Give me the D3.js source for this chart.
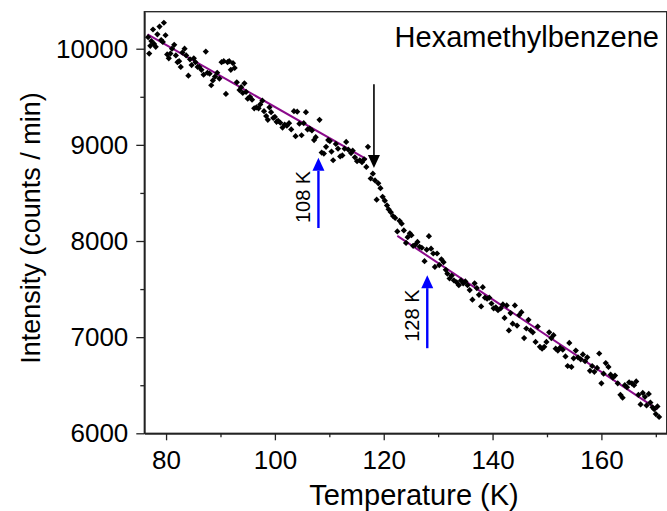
<!DOCTYPE html>
<html>
<head>
<meta charset="utf-8">
<script src="https://cdn.jsdelivr.net/npm/d3@7"></script>
<style>
  body { margin: 0; background: #fff; }
  text { font-family: "Liberation Sans", Arial, sans-serif; fill: #000; }
</style>
</head>
<body>
<div id="container"></div>
<script>
var points = [
  [76.7,10120],[76.9,9950],[77.1,10030],[77.3,10080],[77.6,10200],[77.8,10050],[78.1,10020],[78.4,10150],
  [78.8,10230],[79.1,10090],[79.4,10070],[79.6,10270],[79.9,10140],[80.2,9940],[80.5,9900],[80.8,9950],
  [81.1,10000],[81.5,10040],[81.8,9930],[82.1,9860],[82.4,9870],[82.7,9810],[83.0,9960],[83.4,10000],
  [83.7,9930],[84.1,9720],[84.4,9890],[84.7,9830],[85.1,9900],[85.4,9860],[85.8,9810],[86.1,9810],
  [86.5,9780],[86.9,9730],[87.3,9970],[87.6,9750],[88.0,9740],[88.3,9620],[88.6,9670],[89.0,9710],
  [89.4,9750],[89.8,9690],[90.2,9860],[90.6,9870],[91.0,9530],[91.3,9860],[91.6,9870],[91.9,9780],
  [92.3,9850],[92.6,9800],[93.0,9650],[93.5,9570],[93.8,9600],[94.1,9540],[94.4,9640],[94.7,9550],
  [95.0,9480],[95.4,9500],[95.8,9470],[96.2,9380],[96.6,9390],[97.0,9380],[97.3,9420],[97.7,9460],
  [98.0,9350],[98.4,9300],[98.7,9260],[99.0,9390],[99.3,9340],[99.7,9280],[100.0,9290],[100.3,9240],
  [100.6,9250],[101.0,9230],[101.4,9180],[101.8,9210],[102.2,9200],[102.6,9225],[103.0,9160],[103.5,9350],
  [103.8,9090],[104.1,9345],[104.5,9220],[104.9,9100],[105.3,9225],[105.7,9340],[106.0,9160],[106.4,9170],
  [106.8,9150],[107.2,9050],[107.5,9080],[108.2,9260],[108.6,8920],[109.0,8910],[109.4,8980],[109.8,9050],
  [110.1,9040],[110.4,8930],[110.7,8840],[111.2,9010],[111.6,8960],[112.0,8880],[112.4,8890],[112.8,8960],
  [113.1,9030],[113.5,8950],[114.0,8915],[114.3,8940],[114.7,8870],[115.1,8830],[115.6,8840],[116.0,8820],
  [116.4,8850],[116.8,8770],[117.1,8980],
  [117.6,8650],[118.0,8700],[118.4,8630],[118.7,8430],[119.0,8600],[119.4,8550],[119.8,8460],[120.2,8420],
  [120.6,8370],[120.9,8330],[121.3,8300],[121.7,8260],[122.1,8240],[122.5,8100],[122.9,8210],[123.3,8180],
  [123.7,8110],
  [124.1,7980],[124.4,8040],[124.8,8080],[125.1,8060],[125.4,7950],[125.8,7960],[126.2,7990],[126.6,7940],
  [127.0,7930],[127.5,7790],[127.9,7910],[128.3,8050],[128.7,7920],[129.1,7870],[129.4,7730],[129.8,7870],
  [130.2,7750],[130.6,7810],[131.0,7780],[131.4,7700],[131.7,7660],[132.1,7610],[132.5,7640],[132.9,7590],
  [133.4,7570],[133.8,7540],[134.2,7590],[134.6,7560],[135.0,7580],[135.4,7540],[135.8,7490],[136.3,7390],
  [136.7,7560],[137.1,7510],[137.5,7440],[137.9,7320],[138.2,7520],[138.6,7410],[139.0,7400],[139.4,7410],
  [139.8,7350],[140.2,7300],[140.6,7310],[141.0,7280],[141.5,7300],[141.9,7340],[142.2,7200],[142.6,7330],
  [143.0,7070],[143.3,7250],[143.7,7140],[144.1,7330],[144.5,7120],[144.9,7230],[145.3,7260],[145.8,6990],
  [146.2,7090],[146.6,7180],[147.0,7070],[147.4,7050],[147.9,6950],[148.3,7110],[148.7,6900],[149.1,6880],
  [149.5,6900],[149.9,6950],[150.4,7050],[150.8,6990],[151.2,7020],[151.6,6880],[152.0,6860],[152.4,6890],
  [152.9,6870],[153.4,6800],[153.8,6700],[154.1,6940],[154.5,6690],[154.9,6780],[155.3,6860],[155.7,6790],
  [156.2,6770],[156.6,6820],[157.0,6750],[157.4,6790],[157.9,6650],[158.3,6700],[158.7,6640],[159.2,6680],
  [159.6,6830],[160.0,6520],[160.4,6620],[160.8,6730],[161.3,6690],[161.7,6610],[162.1,6580],[162.5,6600],
  [163.0,6520],[163.5,6400],[163.9,6370],[164.3,6500],[164.7,6480],[165.1,6530],[165.6,6520],[166.0,6500],
  [166.4,6540],[166.8,6400],[167.2,6300],[167.6,6420],[168.0,6380],[168.3,6290],[168.7,6410],[169.0,6320],
  [169.4,6270],[169.7,6250],[170.0,6200],[170.3,6280],[170.6,6170]
];

// linear fits below and above the transition: [T, I] end points
var fitLow = [[76.6,10150],[116.9,8849]];
var fitHigh = [[122.5,8054],[170.3,6249]];

// arrows: x = temperature, from / to in counts
var blackArrow = {t: 118.2, from: 9630, to: 8760};
var blueArrows = [
  {t: 108, from: 8135, to: 8865, label: "108 K"},
  {t: 128, from: 6885, to: 7645, label: "128 K"}
];

var xTicks = [80, 100, 120, 140, 160];
var xMinor = [90, 110, 130, 150, 170];
var yTicks = [6000, 7000, 8000, 9000, 10000];
var yMinor = [6500, 7500, 8500, 9500];

var W = 667, H = 511;
var plotL = 144.3, plotR = 666.7, plotT = 11.7, plotB = 433.3;

var svg = d3.select("#container").append("svg")
	.attr("width", W)
	.attr("height", H);

var x = d3.scaleLinear().domain([76, 172]).range([plotL, plotR]);
var y = d3.scaleLinear().domain([6000, 10385]).range([plotB, plotT]);

// frame
svg.append("rect")
	.attr("x", plotL).attr("y", plotT)
	.attr("width", plotR - plotL).attr("height", plotB - plotT)
	.attr("fill", "none").attr("stroke", "#222").attr("stroke-width", 1.3);

// axes
svg.append("g").attr("transform", "translate(0," + plotB + ")")
	.call(d3.axisBottom(x).tickValues(xTicks).tickSize(7).tickSizeOuter(0).tickPadding(10));
svg.append("g").attr("transform", "translate(0," + plotB + ")")
	.call(d3.axisBottom(x).tickValues(xMinor).tickSize(4).tickFormat("").tickSizeOuter(0));
svg.append("g").attr("transform", "translate(" + plotL + ",0)")
	.call(d3.axisLeft(y).tickValues(yTicks).tickSize(8).tickSizeOuter(0).tickPadding(8).tickFormat(d3.format("d")));
svg.append("g").attr("transform", "translate(" + plotL + ",0)")
	.call(d3.axisLeft(y).tickValues(yMinor).tickSize(4).tickFormat("").tickSizeOuter(0));

svg.selectAll(".domain").attr("stroke", "#222").attr("stroke-width", 1.3);
svg.selectAll(".tick line").attr("stroke", "#222").attr("stroke-width", 1.3);
svg.selectAll(".tick text")
	.style("font-family", "'Liberation Sans', Arial, sans-serif")
	.style("font-size", "26px")
	.attr("fill", "#000");

// axis titles
svg.append("text")
	.attr("x", 414).attr("y", 505)
	.attr("text-anchor", "middle")
	.style("font-size", "29px")
	.text("Temperature (K)");

svg.append("text")
	.attr("transform", "translate(40,228) rotate(-90)")
	.attr("text-anchor", "middle")
	.style("font-size", "27px")
	.text("Intensity (counts / min)");

svg.append("text")
	.attr("x", 659).attr("y", 47)
	.attr("text-anchor", "end")
	.style("font-size", "29px")
	.text("Hexamethylbenzene");

// fit lines
var line = d3.line()
	.x(function(d){ return x(d[0]); })
	.y(function(d){ return y(d[1]); });

[fitLow, fitHigh].forEach(function(f){
	svg.append("path")
		.attr("d", line(f))
		.attr("fill", "none")
		.attr("stroke", "#8b0a8b")
		.attr("stroke-width", 2);
});

// data points as small diamonds
svg.append("g").selectAll("rect")
	.data(points)
	.enter()
	.append("rect")
	.attr("x", -2.2).attr("y", -2.2)
	.attr("width", 4.4).attr("height", 4.4)
	.attr("transform", function(d){
		return "translate(" + x(d[0]) + "," + y(d[1]) + ") rotate(45)";
	})
	.attr("fill", "#000");

// arrows
function arrow(t, from, to, color, width){
	var ax = x(t), y0 = y(from), y1 = y(to);
	var dir = y1 > y0 ? 1 : -1;
	var headL = 13, headW = 6;
	svg.append("line")
		.attr("x1", ax).attr("x2", ax)
		.attr("y1", y0).attr("y2", y1 - dir * headL)
		.attr("stroke", color).attr("stroke-width", width);
	svg.append("path")
		.attr("d", "M" + (ax - headW) + "," + (y1 - dir * headL) +
			"L" + (ax + headW) + "," + (y1 - dir * headL) +
			"L" + ax + "," + y1 + "Z")
		.attr("fill", color);
}

arrow(blackArrow.t, blackArrow.from, blackArrow.to, "#000", 1.6);

blueArrows.forEach(function(a){
	arrow(a.t, a.from, a.to, "#0000ff", 2.4);
	var cy = (y(a.from) + y(a.to)) / 2 + 4;
	svg.append("text")
		.attr("transform", "translate(" + (x(a.t) - 8) + "," + cy + ") rotate(-90)")
		.attr("text-anchor", "middle")
		.style("font-size", "20px")
		.text(a.label);
});
</script>
</body>
</html>
